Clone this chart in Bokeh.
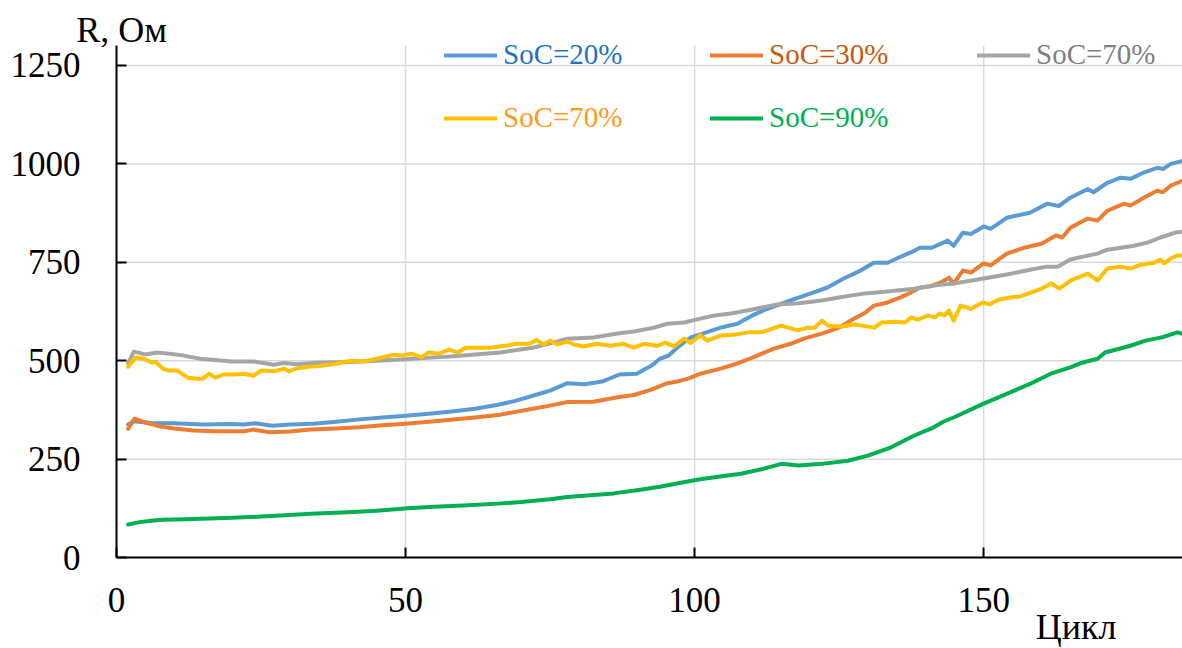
from bokeh.plotting import figure
from bokeh.models import Legend, LegendItem, Label, FixedTicker, Range1d
from bokeh.embed import file_html
from bokeh.resources import INLINE

FONT = "Liberation Serif"

# ---- data ----
soc20_x = [2, 3, 6, 10, 15, 20, 22, 24, 27, 30, 34, 38, 42, 46, 50, 54, 58, 62, 66, 69, 72, 75, 78, 81, 84, 87,
           90, 92.5, 94, 95.5, 97, 99.3, 101, 104.5, 107.4, 110, 112.6, 116.6, 119.5, 123, 125.8, 128.7, 131,
           133.4, 135.6, 137.4, 139, 141, 143.8, 144.8, 146.4, 147.8, 150, 151.2, 154, 158, 161, 163, 165, 168,
           169, 171.4, 173.7, 175.4, 177.7, 180, 181, 182.4, 184.5]
soc20_y = [338, 346, 342, 341, 338, 339, 338, 341, 335, 338, 340, 345, 351, 356, 360, 365, 371, 378, 388, 398,
           411, 424, 443, 440, 447, 465, 467, 487, 505, 513, 533, 559, 567, 584, 594, 615, 632, 653, 668, 686,
           709, 729, 749, 749, 764, 775, 787, 787, 805, 792, 825, 822, 841, 835, 863, 876, 899, 893, 914, 936,
           928, 952, 965, 962, 978, 990, 987, 1000, 1008]

soc30_x = [2, 3.1, 5, 7.6, 10, 13.3, 17, 22, 23.7, 26.6, 30, 33.6, 38, 42, 46, 50, 54, 57.8, 62, 66.4, 69, 72,
           75, 78, 82.5, 86.7, 89.5, 92.4, 95.3, 97, 99, 101, 104.5, 107.4, 110, 113.6, 116.6, 118.9, 122, 125,
           127, 129.5, 131, 133.4, 135.6, 137.4, 139, 141, 142.6, 144, 144.8, 146.4, 147.8, 150, 151.2, 154, 157,
           160, 162.5, 163.6, 165, 168, 169.7, 171.4, 174.3, 175.4, 177.7, 180, 181, 182.4, 184.5]
soc30_y = [327, 353, 343, 333, 328, 323, 321, 321, 325, 318, 320, 325, 328, 331, 336, 340, 345, 350, 356, 363,
           370, 378, 386, 395, 396, 407, 413, 426, 443, 447, 455, 467, 480, 493, 508, 530, 543, 556, 569, 584,
           602, 622, 640, 648, 661, 673, 686, 690, 699, 711, 696, 729, 724, 747, 742, 772, 787, 797, 818, 813,
           838, 861, 856, 881, 899, 894, 914, 932, 928, 945, 958]

soc70a_x = [2, 3, 5, 7, 9, 11.6, 14.5, 17, 20, 23.7, 27.2, 29, 31, 34.7, 40.5, 45, 49.3, 53, 57.8, 62, 66.4,
            72, 75, 78, 82.5, 86.7, 89.5, 93, 95.3, 98.2, 101, 103.4, 106.3, 110, 114.3, 118, 122, 125.2, 129.5,
            133.4, 138, 142, 144.8, 150, 154, 158, 161, 162.8, 165, 168, 169.7, 171.4, 173.7, 176, 178.3, 180.6,
            183, 184.5]
soc70a_y = [493, 523, 516, 521, 518, 513, 505, 502, 498, 498, 490, 494, 491, 495, 497, 500, 503, 507, 511, 516,
            521, 533, 544, 556, 559, 569, 574, 584, 594, 597, 607, 615, 620, 630, 643, 646, 653, 661, 671, 676,
            683, 692, 696, 709, 719, 731, 739, 739, 757, 767, 772, 782, 787, 792, 800, 813, 825, 828]

soc70b_x = [2, 3.3, 4.7, 6.2, 6.7, 8, 9, 10.5, 12.3, 14, 14.9, 16, 17.1, 18.5, 20.2, 22, 23.7, 25, 27.2, 29,
            29.8, 31.3, 33.6, 35.8, 38.2, 40.5, 42.7, 45, 48, 49.3, 51, 52.8, 54, 55.8, 57.5, 59, 60.4, 64.5,
            67.3, 69.2, 71.5, 72.7, 73.9, 75, 76.2, 78, 79.1, 80.8, 83.1, 85.4, 87.7, 89.5, 91.2, 93.5, 95, 96.4,
            98.2, 99.3, 101, 102.2, 104.5, 106.8, 109.2, 111.5, 115, 117.9, 119.6, 120.8, 122, 123.1, 125.4,
            127.7, 131.1, 132.3, 134.6, 136.3, 137.5, 138.6, 140.4, 141.6, 142.4, 143.2, 144, 144.8, 146, 147.8,
            149.8, 151, 152.5, 154.8, 156.2, 158.2, 160, 161.7, 163.1, 165.1, 168, 169.7, 171.4, 173.7, 175.4,
            177.2, 179.5, 180.6, 181.2, 182.4, 183.5, 184.5]
soc70b_y = [485, 508, 505, 495, 498, 480, 475, 475, 457, 454, 454, 467, 457, 465, 465, 467, 462, 475, 473, 480,
            473, 481, 485, 488, 493, 500, 498, 505, 515, 513, 518, 509, 521, 518, 528, 521, 533, 533, 538, 543,
            543, 553, 541, 551, 541, 549, 541, 536, 543, 538, 543, 533, 543, 538, 546, 536, 556, 545, 565, 551,
            564, 566, 572, 572, 589, 577, 584, 584, 602, 589, 587, 592, 584, 597, 599, 597, 610, 604, 615, 610,
            620, 615, 627, 602, 640, 632, 648, 643, 655, 661, 663, 673, 683, 696, 683, 704, 721, 704, 734, 739,
            734, 744, 749, 757, 747, 760, 767, 767]

soc90_x = [2, 4, 6.4, 8, 12, 16, 20, 25, 30, 33.6, 40, 45, 51, 55, 60, 66, 70, 75, 78, 82, 86, 90, 94, 97.6,
           101, 105, 108, 112, 115, 118, 122, 126.5, 130, 134, 138, 141, 143, 145, 150, 154, 158, 161.6, 165,
           167, 169.7, 171, 175.4, 178, 181, 183.5, 184.5]
soc90_y = [84, 90, 94, 96, 97, 99, 101, 104, 108, 111, 115, 119, 126, 129, 132, 137, 141, 148, 154, 158, 163,
           171, 180, 190, 199, 207, 213, 226, 238, 234, 238, 246, 259, 280, 310, 328, 345, 357, 391, 416, 441,
           467, 483, 495, 505, 521, 538, 551, 560, 572, 568]

series = [
    ("SoC=20%", soc20_x, soc20_y, "#5B9BD5", "#1F74C6"),
    ("SoC=30%", soc30_x, soc30_y, "#ED7D31", "#C55A11"),
    ("SoC=70%", soc70a_x, soc70a_y, "#A5A5A5", "#7F7F7F"),
    ("SoC=70%", soc70b_x, soc70b_y, "#FFC000", "#FF9A1A"),
    ("SoC=90%", soc90_x, soc90_y, "#00B050", "#00B050"),
]

x_ticks = [0, 50, 100, 150]
y_ticks = [0, 250, 500, 750, 1000, 1250]
X_MAX = 184.5
Y_MAX = 1300

p = figure(width=1182, height=648, output_backend="svg", toolbar_location=None,
           x_range=Range1d(-20.07, 184.4), y_range=Range1d(-231, 1415),
           min_border=0)
p.outline_line_color = None
p.background_fill_color = "white"
p.xgrid.visible = False
p.ygrid.visible = False

p.xaxis.fixed_location = 0
p.yaxis.fixed_location = 0
p.xaxis.bounds = (0, X_MAX)
p.yaxis.bounds = (0, Y_MAX)

for ax, ticks in ((p.xaxis, x_ticks), (p.yaxis, y_ticks)):
    ax.ticker = FixedTicker(ticks=ticks)
    ax.major_label_text_font = FONT
    ax.major_label_text_font_size = "35px"
    ax.major_label_text_color = "black"
    ax.axis_line_color = "black"
    ax.axis_line_width = 2
    ax.major_tick_line_color = "black"
    ax.major_tick_line_width = 2
    ax.major_tick_in = 10
    ax.major_tick_out = 0
    ax.minor_tick_line_color = None
p.xaxis.major_label_standoff = 30
p.yaxis.major_label_standoff = 36

# grid lines limited to the plotting box (0..X_MAX, 0..Y_MAX), at the tick values
gx = [t for t in x_ticks if t > 0]
gy = [t for t in y_ticks if t > 0]
p.segment(x0=gx, y0=[0] * len(gx), x1=gx, y1=[Y_MAX] * len(gx),
          line_color="#D9D9D9", line_width=1.5)
p.segment(x0=[0] * len(gy), y0=gy, x1=[X_MAX] * len(gy), y1=gy,
          line_color="#D9D9D9", line_width=1.5)

renderers = []
for name, xs, ys, col, tcol in series:
    r = p.line(xs, ys, line_color=col, line_width=4, line_join="round", line_cap="round")
    renderers.append(r)

# legends, one per entry so each label keeps its own colour
leg_pos = [(444, 577), (710, 577), (977, 577), (444, 514), (710, 514)]
for (name, xs, ys, col, tcol), r, loc in zip(series, renderers, leg_pos):
    leg = Legend(items=[LegendItem(label=name, renderers=[r])], location=loc,
                 padding=0, margin=0, spacing=0, glyph_width=53, glyph_height=30, label_height=30,
                 label_standoff=6, label_text_font=FONT, label_text_font_size="29px",
                 label_text_color=tcol, border_line_color=None, background_fill_alpha=0)
    p.add_layout(leg)

p.add_layout(Label(x=0.9, y=1341, text="R, Ом", text_font=FONT, text_font_size="36px",
                   text_align="center", text_baseline="alphabetic", text_color="black"))
p.add_layout(Label(x=159, y=-177, text="Цикл", text_font=FONT, text_font_size="36px",
                   text_align="left", text_baseline="alphabetic", text_color="black"))

open("out.html", "w").write(file_html(p, INLINE))
